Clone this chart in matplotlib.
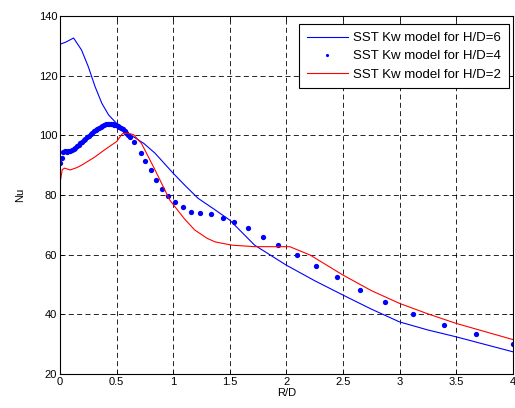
import matplotlib
matplotlib.use("Agg")
import matplotlib.pyplot as plt

plt.rcParams.update({
    "font.family": ["Liberation Sans", "DejaVu Sans"],
    "font.size": 8,
    "xtick.direction": "in", "ytick.direction": "in",
    "xtick.top": True, "ytick.right": True,
})

# H/D=6 (line)
x6 = [0.0, 0.05, 0.12, 0.19, 0.25, 0.31, 0.37, 0.43, 0.5, 0.6, 0.74, 0.84,
      1.0, 1.11, 1.22, 1.36, 1.5, 1.72, 2.0, 2.25, 2.5, 2.75, 3.0, 3.25, 3.5, 3.75, 4.0]
nu6 = [130.5, 131.2, 132.6, 128.6, 123.0, 116.3, 110.7, 106.8, 104.0, 100.7, 97.3, 94.0,
       87.3, 83.0, 78.9, 75.3, 71.6, 63.2, 56.5, 51.3, 46.5, 41.8, 37.5, 34.8, 32.5, 30.0, 27.5]

# H/D=4 (dots)
x4 = [0.0, 0.015, 0.03, 0.045, 0.06, 0.075, 0.09, 0.105, 0.12, 0.135, 0.15, 0.165,
      0.18, 0.195, 0.21, 0.225, 0.24, 0.255, 0.27, 0.285, 0.30, 0.315, 0.33, 0.345,
      0.36, 0.375, 0.39, 0.405, 0.42, 0.435, 0.45, 0.465, 0.48, 0.495, 0.51, 0.525,
      0.54, 0.555, 0.57, 0.585, 0.60, 0.615, 0.65, 0.72, 0.75, 0.80, 0.85, 0.90,
      0.956, 1.02, 1.09, 1.16, 1.24, 1.33, 1.44, 1.54, 1.66, 1.79, 1.93, 2.09,
      2.26, 2.45, 2.65, 2.87, 3.12, 3.39, 3.68, 4.0]
nu4 = [90.8, 92.5, 94.3, 94.6, 94.5, 94.6, 94.8, 95.1, 95.5, 95.9, 96.3, 96.8,
       97.3, 97.8, 98.3, 98.8, 99.3, 99.8, 100.3, 100.8, 101.3, 101.8, 102.2, 102.6,
       102.9, 103.2, 103.5, 103.7, 103.8, 103.9, 103.9, 103.8, 103.6, 103.4, 103.1, 102.8,
       102.4, 102.0, 101.4, 100.8, 100.2, 99.5, 97.9, 94.0, 91.5, 88.4, 85.0, 82.1,
       79.8, 77.6, 75.9, 74.4, 73.9, 73.5, 72.4, 70.9, 68.8, 66.0, 63.3, 59.8,
       56.3, 52.4, 48.2, 44.0, 40.2, 36.3, 33.3, 30.1]

# H/D=2 (line)
x2 = [0.0, 0.02, 0.04, 0.09, 0.15, 0.2, 0.31, 0.4, 0.5, 0.55, 0.6, 0.65, 0.72,
      0.84, 0.97, 1.1, 1.19, 1.3, 1.37, 1.52, 1.72, 2.03, 2.21, 2.5, 2.75, 3.0,
      3.25, 3.5, 3.75, 4.0]
nu2 = [84.0, 88.5, 89.0, 88.4, 89.2, 90.2, 92.8, 95.3, 97.9, 100.5, 100.7, 100.2, 97.3,
       88.4, 78.3, 72.0, 68.3, 65.5, 64.3, 63.2, 62.7, 62.7, 59.9, 53.2, 48.0, 43.7,
       40.2, 37.0, 34.3, 31.6]

fig = plt.figure(figsize=(5.15, 4.08), dpi=100)
ax = fig.add_axes([0.1165, 0.083, 0.879, 0.878])

ax.plot(x6, nu6, color="#0000ff", lw=0.8, label="SST Kw model for H/D=6")
ax.plot(x4, nu4, "o", color="#0000ff", ms=3.8, mew=0, label="SST Kw model for H/D=4")
ax.plot(x2, nu2, color="#ff0000", lw=0.8, label="SST Kw model for H/D=2")

ax.set_xlim(0, 4)
ax.set_ylim(20, 140)
ax.set_xticks([0, 0.5, 1, 1.5, 2, 2.5, 3, 3.5, 4])
ax.set_xticklabels(["0", "0.5", "1", "1.5", "2", "2.5", "3", "3.5", "4"])
ax.set_yticks(range(20, 141, 20))
ax.grid(True, color="k", lw=0.6, linestyle=(0, (6, 4)))
ax.tick_params(length=3, width=0.6, pad=2)
for s in ax.spines.values():
    s.set_linewidth(0.8)
ax.set_xlabel("R/D", labelpad=1)
ax.set_ylabel("Nu", labelpad=10)

leg = ax.legend(loc="upper right", bbox_to_anchor=(509 / 515, 1 - 24 / 408),
                bbox_transform=fig.transFigure, borderaxespad=0,
                fancybox=False, framealpha=1, edgecolor="k", fontsize=9.5,
                handlelength=3.1, handletextpad=0.4, labelspacing=0.45,
                borderpad=0.6, markerscale=0.6)
leg.get_frame().set_linewidth(0.8)

fig.savefig("out.png", dpi=100)
